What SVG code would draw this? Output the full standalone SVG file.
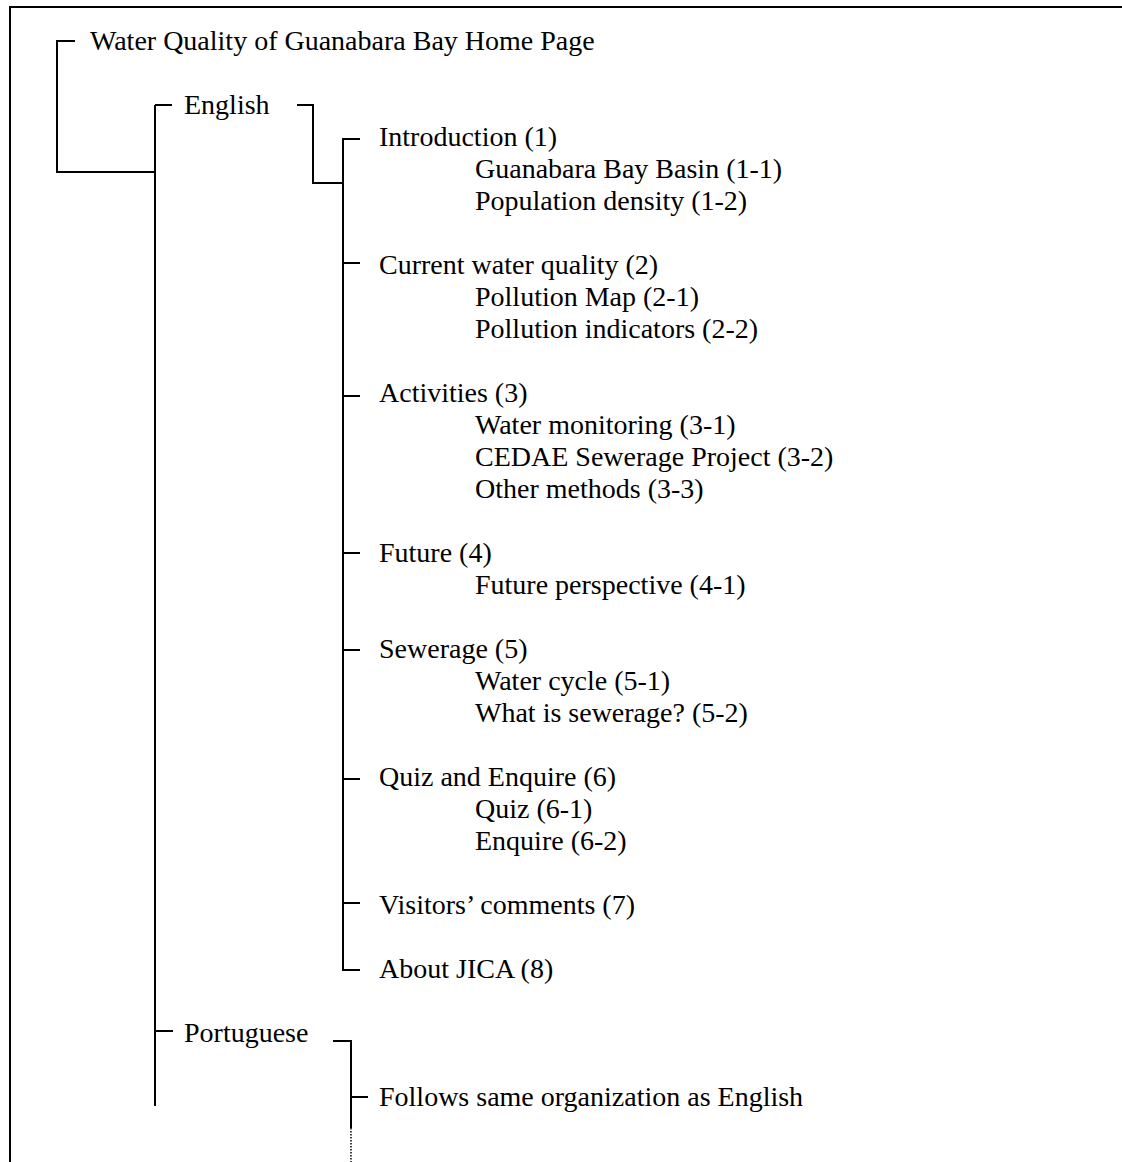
<svg xmlns="http://www.w3.org/2000/svg" width="1122" height="1162" viewBox="0 0 1122 1162">
  <style>
    text { font-family: "Liberation Serif", "Times New Roman", serif; font-size: 28px; fill: #000; }
    .ln { fill: none; stroke: #000; stroke-width: 2; }
    .dot { fill: none; stroke: #000; stroke-width: 1.5; stroke-dasharray: 1.5 1.5; }
  </style>
  <rect width="1122" height="1162" fill="#fff"/>

  <!-- page frame (top and left edges) -->
  <path class="ln" d="M1122,7 H10 V1162"/>

  <!-- tree connectors -->
  <g id="connectors">
    <path class="ln" d="M75,41 H57 V172 H155"/>
    <path class="ln" d="M155,105 V1106"/>
    <path class="ln" d="M155,105 H172"/>
    <path class="ln" d="M155,1031 H173"/>
    <path class="ln" d="M297,105 H313 V183 H343"/>
    <path class="ln" d="M360,139 H343 V970 H360"/>
    <path class="ln" d="M343,263 H360"/>
    <path class="ln" d="M343,396 H360"/>
    <path class="ln" d="M343,553 H360"/>
    <path class="ln" d="M343,650 H360"/>
    <path class="ln" d="M343,779 H360"/>
    <path class="ln" d="M343,903 H360"/>
    <path class="ln" d="M333,1041 H351 V1128"/>
    <path class="dot" d="M351,1128 V1162"/>
    <path class="ln" d="M351,1097 H368"/>
  </g>

  <g id="home"><text x="90" y="49.5">Water Quality of Guanabara Bay Home Page</text></g>
  <g id="english"><text x="184" y="113.5">English</text></g>

  <g id="introduction">
    <text x="379" y="145.5">Introduction (1)</text>
    <text x="475" y="177.5">Guanabara Bay Basin (1-1)</text>
    <text x="475" y="209.5">Population density (1-2)</text>
  </g>
  <g id="current-quality">
    <text x="379" y="273.5">Current water quality (2)</text>
    <text x="475" y="305.5">Pollution Map (2-1)</text>
    <text x="475" y="337.5">Pollution indicators (2-2)</text>
  </g>
  <g id="activities">
    <text x="379" y="401.5">Activities (3)</text>
    <text x="475" y="433.5">Water monitoring (3-1)</text>
    <text x="475" y="465.5">CEDAE Sewerage Project (3-2)</text>
    <text x="475" y="497.5">Other methods (3-3)</text>
  </g>
  <g id="future">
    <text x="379" y="561.5">Future (4)</text>
    <text x="475" y="593.5">Future perspective (4-1)</text>
  </g>
  <g id="sewerage">
    <text x="379" y="657.5">Sewerage (5)</text>
    <text x="475" y="689.5">Water cycle (5-1)</text>
    <text x="475" y="721.5">What is sewerage? (5-2)</text>
  </g>
  <g id="quiz">
    <text x="379" y="785.5">Quiz and Enquire (6)</text>
    <text x="475" y="817.5">Quiz (6-1)</text>
    <text x="475" y="849.5">Enquire (6-2)</text>
  </g>
  <g id="comments"><text x="379" y="913.5">Visitors’ comments (7)</text></g>
  <g id="jica"><text x="379" y="977.5">About JICA (8)</text></g>

  <g id="portuguese"><text x="184" y="1041.5">Portuguese</text></g>
  <g id="portuguese-note"><text x="379" y="1105.5">Follows same organization as English</text></g>
</svg>
